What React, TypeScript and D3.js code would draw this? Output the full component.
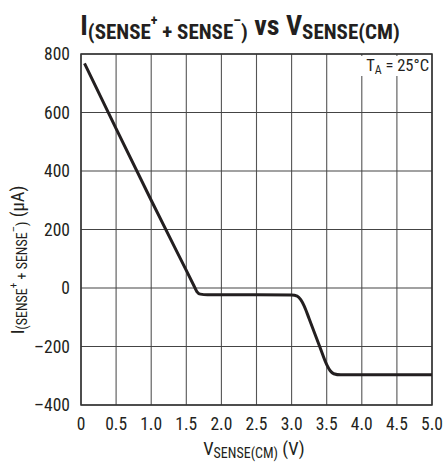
import React from 'react';
import * as d3 from 'd3';

// curve: V_SENSE(CM) in volts, current in µA
const vsense = [0.05, 0.5, 1.0, 1.5, 1.6, 1.65, 1.7, 1.8, 2.5, 3.0, 3.08, 3.13, 3.18, 3.25, 3.4, 3.5, 3.55, 3.6, 3.7, 4.0, 5.0];
const current = [768, 545, 300, 60, 12, -12, -21, -23, -23, -24, -28, -40, -62, -105, -200, -262, -283, -293, -297, -297, -297];

const xTicks = [0, 0.5, 1.0, 1.5, 2.0, 2.5, 3.0, 3.5, 4.0, 4.5, 5.0];
const xTickLabels = ['0', '0.5', '1.0', '1.5', '2.0', '2.5', '3.0', '3.5', '4.0', '4.5', '5.0'];
const yTicks = [800, 600, 400, 200, 0, -200, -400];
const yTickLabels = ['800', '600', '400', '200', '0', '–200', '–400'];

const W = 445;
const H = 462;
const left = 81;
const right = 432;
const top = 54;
const bottom = 405;

const font = "'Liberation Sans Narrow', 'Roboto Condensed', 'Arial Narrow', 'Liberation Sans', Arial, sans-serif";

export default function App() {
  const x = d3.scaleLinear().domain([0, 5]).range([left, right]);
  const y = d3.scaleLinear().domain([-400, 800]).range([bottom, top]);

  const pts = vsense.map((v, i) => [v, current[i]] as [number, number]);
  const line = d3
    .line<[number, number]>()
    .x(d => x(d[0]))
    .y(d => y(d[1]))
    .curve(d3.curveMonotoneX);

  return (
    <svg width={W} height={H} style={{ position: 'absolute', left: 0, top: 0, background: '#fff' }} fontFamily={font}>
      {/* title */}
      <text x={240} y={35} textAnchor="middle" fontWeight="bold" fill="#231f20">
        <tspan fontSize={28}>I</tspan>
        <tspan fontSize={21} dy={4}>(SENSE</tspan>
        <tspan fontSize={14} dy={-14}>+</tspan>
        <tspan fontSize={21} dy={14}> + SENSE</tspan>
        <tspan fontSize={14} dy={-14}>–</tspan>
        <tspan fontSize={21} dy={14}>)</tspan>
        <tspan fontSize={28} dy={-4}> vs V</tspan>
        <tspan fontSize={21} dy={4}>SENSE(CM)</tspan>
      </text>

      {/* grid */}
      {xTicks.map(t => (
        <line key={'gx' + t} x1={x(t)} x2={x(t)} y1={top} y2={bottom} stroke="#555" strokeWidth={1.1} />
      ))}
      {yTicks.map(t => (
        <line key={'gy' + t} x1={left} x2={right} y1={y(t)} y2={y(t)} stroke="#444" strokeWidth={1.1} />
      ))}

      {/* T_A label with white box */}
      <rect x={356} y={56} width={74} height={20} fill="#fff" />
      <text x={429} y={71} textAnchor="end" fontSize={16.5} fill="#231f20">
        <tspan>T</tspan>
        <tspan fontSize={12} dy={3}>A</tspan>
        <tspan dy={-3}> = 25°C</tspan>
      </text>

      {/* frame */}
      <rect x={left} y={top} width={right - left} height={bottom - top} fill="none" stroke="#333" strokeWidth={1.5} />

      {/* curve */}
      <path d={line(pts) || ''} fill="none" stroke="#231f20" strokeWidth={3} strokeLinejoin="round" />

      {/* y ticks */}
      {yTicks.map((t, i) => (
        <text key={'ty' + t} x={70} y={y(t)} dy="0.35em" textAnchor="end" fontSize={17.5} fill="#231f20">
          {yTickLabels[i]}
        </text>
      ))}
      {/* x ticks */}
      {xTicks.map((t, i) => (
        <text key={'tx' + t} x={x(t)} y={430} textAnchor="middle" fontSize={17.5} fill="#231f20">
          {xTickLabels[i]}
        </text>
      ))}

      {/* x axis title */}
      <text x={254} y={455} textAnchor="middle" fontSize={18.5} fill="#231f20">
        <tspan>V</tspan>
        <tspan fontSize={14} dy={3}>SENSE(CM)</tspan>
        <tspan dy={-3}> (V)</tspan>
      </text>

      {/* y axis title */}
      <text transform="translate(24,260) rotate(-90)" textAnchor="middle" fontSize={18.5} fill="#231f20">
        <tspan>I</tspan>
        <tspan fontSize={14} dy={3}>(SENSE</tspan>
        <tspan fontSize={11} dy={-10}>+</tspan>
        <tspan fontSize={14} dy={10}> + SENSE</tspan>
        <tspan fontSize={11} dy={-10}>–</tspan>
        <tspan fontSize={14} dy={10}>)</tspan>
        <tspan dy={-3}> (µA)</tspan>
      </text>
    </svg>
  );
}
